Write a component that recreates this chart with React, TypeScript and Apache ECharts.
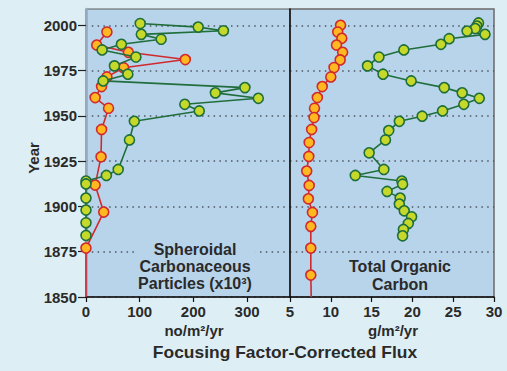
import React, { useEffect, useRef } from "react";
import * as echarts from "echarts";

// ---- Data (value, year) ----
const scpGreenYears = [2001, 1999, 1997, 1995, 1992.3, 1989.5, 1986.4, 1982.5, 1977.6, 1973, 1969.3, 1965.6, 1962.7, 1959.7, 1956.4, 1952.7, 1947, 1936.7, 1920.4, 1917.1, 1914, 1912.4, 1904.6, 1898, 1891, 1884];
const scpGreenValues = [101, 209, 256, 103, 140, 66, 30, 93, 53, 78, 32, 296, 241, 321, 184, 211, 90, 81, 60, 38, 0, 0, 0, 0, 0, 0];

const scpRedYears = [1996.3, 1989.1, 1985.1, 1981.1, 1976.6, 1971.5, 1966.2, 1960.1, 1954.2, 1942.5, 1927.4, 1911.8, 1896.9, 1877, 1850];
const scpRedValues = [39, 20, 79, 185, 70, 39, 29, 17, 42, 29, 28, 17, 33, 0, 0];

const tocGreenYears = [2001.3, 1999.6, 1998.2, 1996.8, 1995, 1992.6, 1989.5, 1986.4, 1982.5, 1977.6, 1973, 1969.3, 1965.6, 1962.7, 1959.7, 1956.4, 1952.7, 1949.8, 1947, 1941.9, 1936.7, 1929.6, 1920.4, 1917.1, 1914, 1912.3, 1908.3, 1904.6, 1901.3, 1897.6, 1894.3, 1890.6, 1887.3, 1883.8];
const tocGreenValues = [28.1, 27.9, 27.7, 26.7, 28.9, 24.5, 23.5, 18.95, 15.9, 14.5, 16.4, 19.85, 23.9, 26.1, 28.2, 26.3, 23.7, 21.2, 18.4, 17.1, 16.7, 14.7, 16.5, 13.0, 18.7, 18.8, 16.9, 18.5, 18.4, 19.0, 19.9, 19.5, 18.9, 18.8];

const tocRedYears = [2000, 1996.3, 1992.8, 1989.1, 1985.1, 1980.9, 1976.7, 1971.5, 1966.2, 1960.1, 1954.2, 1949.1, 1942.5, 1935.3, 1927.6, 1919.5, 1911.6, 1904.2, 1896.7, 1889, 1877, 1862.1, 1850];
const tocRedValues = [11.2, 10.85, 11.35, 10.7, 11.45, 11.15, 10.4, 10.0, 8.95, 8.35, 8.0, 7.95, 7.65, 7.35, 7.3, 7.05, 7.35, 7.25, 7.75, 7.55, 7.55, 7.55, 7.6];

const yearTicks = [1850, 1875, 1900, 1925, 1950, 1975, 2000];
const scpTicks = [0, 100, 200, 300];
const tocTicks = [5, 10, 15, 20, 25, 30];

const FONT = "'Liberation Sans', Arial, Helvetica, sans-serif";
const TXT = "#2a2a2a";
const PLOT_BG = "#b8d4eb";

const GREEN_LINE = "#1f6e3b";
const GREEN_FILL = "#c6d92b";
const RED_LINE = "#d02a2e";
const RED_FILL = "#ffb820";

function pairs(values: number[], years: number[], lastNoSymbol = false) {
  return values.map((v, i) => {
    if (lastNoSymbol && i === values.length - 1) {
      return { value: [v, years[i]], symbol: "none" };
    }
    return { value: [v, years[i]] };
  });
}

function series(data: any[], idx: number, line: string, fill: string, z: number) {
  return {
    type: "line",
    xAxisIndex: idx,
    yAxisIndex: idx,
    data,
    symbol: "circle",
    symbolSize: 10,
    clip: false,
    z,
    lineStyle: { color: line, width: 1.6 },
    itemStyle: { color: fill, borderColor: line, borderWidth: 1.6 },
  };
}

function yAxis(idx: number) {
  return {
    type: "value",
    gridIndex: idx,
    min: 1850,
    max: 2009,
    interval: 25,
    axisLine: {
      show: true,
      lineStyle: idx === 0 ? { color: "#95a9bf", width: 2.5 } : { color: "#111", width: 1.5 },
    },
    axisTick: {
      show: idx === 0,
      length: 8,
      customValues: yearTicks,
      lineStyle: { color: "#222", width: 1.2 },
    },
    axisLabel: {
      show: idx === 0,
      customValues: yearTicks,
      margin: 9,
      fontSize: 15,
      fontWeight: "bold",
      fontFamily: FONT,
      color: TXT,
      formatter: (v: number) => (v % 25 === 0 ? String(v) : ""),
    },
    splitLine: {
      show: true,
      lineStyle: { color: "#4d5560", width: 1.5, type: [1.5, 4.3] },
    },
  };
}

function xAxis(idx: number, min: number, max: number, interval: number, ticks: number[]) {
  return {
    type: "value",
    gridIndex: idx,
    min,
    max,
    interval,
    axisLine: { show: true, onZero: false, lineStyle: { color: "#111", width: 1.5 } },
    axisTick: { show: true, length: 5, customValues: ticks, lineStyle: { color: "#111", width: 1.2 } },
    axisLabel: {
      customValues: ticks,
      margin: 7,
      fontSize: 15,
      fontWeight: "bold",
      fontFamily: FONT,
      color: TXT,
      formatter: (v: number) => (ticks.indexOf(v) >= 0 ? String(v) : ""),
    },
    splitLine: { show: false },
  };
}

export default function App() {
  const ref = useRef<HTMLDivElement>(null);

  useEffect(() => {
    if (!ref.current) return;
    const chart = echarts.init(ref.current, undefined, { renderer: "svg" });
    const option: any = {
      animation: false,
      backgroundColor: "#ddeff5",
      grid: [
        { left: 86, top: 9, width: 204, height: 288, show: true, backgroundColor: PLOT_BG, borderColor: "#5a5a5a", borderWidth: 1 },
        { left: 290, top: 9, width: 204, height: 288, show: true, backgroundColor: PLOT_BG, borderColor: "#6a6a6a", borderWidth: 1.5 },
      ],
      xAxis: [
        xAxis(0, 0, 380, 100, scpTicks),
        xAxis(1, 5, 30, 5, tocTicks),
      ],
      yAxis: [yAxis(0), yAxis(1)],
      series: [
        series(pairs(scpRedValues, scpRedYears, true), 0, RED_LINE, RED_FILL, 3),
        series(pairs(scpGreenValues, scpGreenYears), 0, GREEN_LINE, GREEN_FILL, 4),
        series(pairs(tocRedValues, tocRedYears, true), 1, RED_LINE, RED_FILL, 3),
        series(pairs(tocGreenValues, tocGreenYears), 1, GREEN_LINE, GREEN_FILL, 4),
      ],
      graphic: [
        {
          type: "text",
          x: 33,
          y: 158,
          rotation: Math.PI / 2,
          style: { text: "Year", font: `bold 15px ${FONT}`, fill: TXT, align: "center", verticalAlign: "middle" },
        },
        {
          type: "text",
          x: 195,
          y: 266.5,
          z: 10,
          style: {
            text: "Spheroidal\nCarbonaceous\nParticles (x10³)",
            font: `bold 16px ${FONT}`,
            lineHeight: 16.7,
            fill: TXT,
            align: "center",
            verticalAlign: "middle",
            backgroundColor: PLOT_BG,
            padding: [0, 4, 0, 4],
          },
        },
        {
          type: "text",
          x: 400,
          y: 275,
          z: 10,
          style: {
            text: "Total Organic\nCarbon",
            font: `bold 16px ${FONT}`,
            lineHeight: 18,
            fill: TXT,
            align: "center",
            verticalAlign: "middle",
          },
        },
        {
          type: "text",
          x: 194,
          y: 330,
          style: { text: "no/m²/yr", font: `bold 15px ${FONT}`, fill: TXT, align: "center", verticalAlign: "middle" },
        },
        {
          type: "text",
          x: 393,
          y: 330,
          style: { text: "g/m²/yr", font: `bold 15px ${FONT}`, fill: TXT, align: "center", verticalAlign: "middle" },
        },
        {
          type: "text",
          x: 285,
          y: 353,
          scaleX: 1.09,
          style: { text: "Focusing Factor-Corrected Flux", font: `bold 16px ${FONT}`, fill: TXT, align: "center", verticalAlign: "middle" },
        },
      ],
    };
    chart.setOption(option);
    return () => chart.dispose();
  }, []);

  return (
    <div
      ref={ref}
      style={{ position: "fixed", left: 0, top: 0, width: 507, height: 371, background: "#ddeff5" }}
    />
  );
}
